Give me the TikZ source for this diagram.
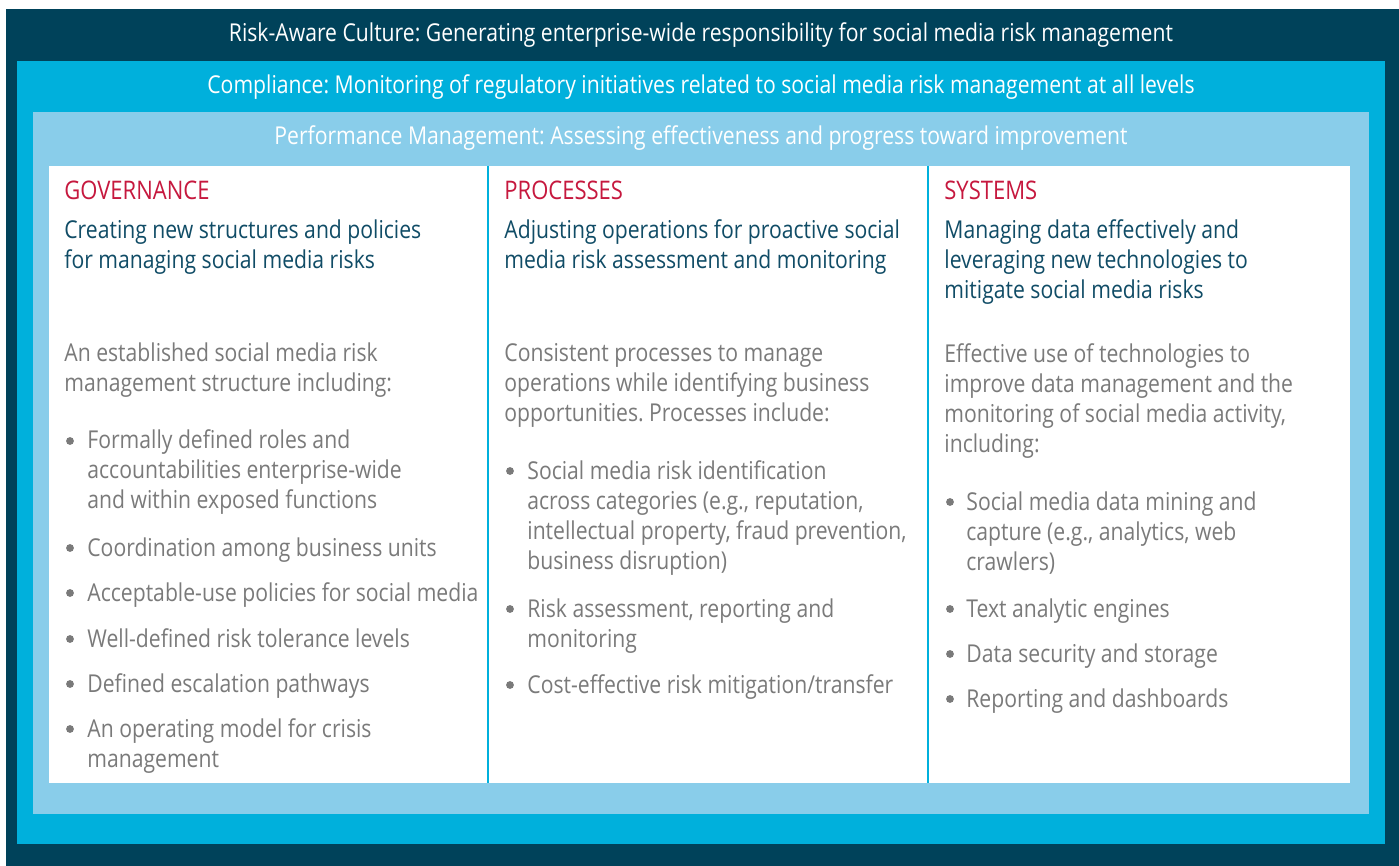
\documentclass[tikz,border=0pt]{standalone}
\usepackage{fontspec}
\setmainfont{Open Sans}[FakeStretch=0.86]
\frenchspacing
\usetikzlibrary{positioning}

\definecolor{culture}{RGB}{0,66,90}
\definecolor{compliance}{RGB}{0,176,220}
\definecolor{perform}{RGB}{137,205,234}
\definecolor{titlered}{RGB}{198,24,62}
\definecolor{subteal}{RGB}{16,76,102}
\definecolor{bodygray}{RGB}{122,122,122}

\tikzset{
  txt/.style={font=\fontsize{12.3}{15}\selectfont, inner sep=0pt},
  band/.style={txt, text=white, anchor=base},
  head/.style={txt, font=\fontsize{12.8}{15}\selectfont, text=titlered, anchor=base west},
  sub/.style={txt, text=subteal, align=left, anchor=base west},
  body/.style={txt, text=bodygray, align=left, anchor=base west},
  bul/.style={circle, fill=bodygray, inner sep=0pt, minimum size=3.9pt},
  sepline/.style={compliance, line width=1.2pt}
}

\begin{document}
\begin{tikzpicture}[x=0.5pt,y=-0.5pt]
\useasboundingbox (0,0) rectangle (1399,866);
\fill[white] (0,0) rectangle (1399,866);
% nested frames
\fill[culture] (6,9) rectangle (1399,866);
\fill[compliance] (17,61) rectangle (1385,844);
\fill[perform] (33,112) rectangle (1369,814);
\fill[white] (49,166) rectangle (1350,783);
\draw[sepline] (488,166) -- (488,783);
\draw[sepline] (928,166) -- (928,783);

% band titles (base = baseline)
\node[band] (culturetxt) at (701,42) {Risk-Aware Culture: Generating enterprise-wide responsibility for social media risk management};
\node[band] (compltxt) at (701,94) {Compliance: Monitoring of regulatory initiatives related to social media risk management at all levels};
\node[band] (perftxt) at (701,145) {Performance Management: Assessing effectiveness and progress toward improvement};

% governance -- multi-line nodes sit on their last line
\node[head] (gov) at (64,200) {GOVERNANCE};
\node[sub] (govsub) at (64,269) {Creating new structures and policies\\for managing social media risks};
\node[body] (govtxt) at (64,392) {An established social media risk\\management structure including:};
\node[bul] (gb1) at (70,441) {};
\node[body] (gi1) at (87,509) {Formally defined roles and\\accountabilities enterprise-wide\\and within exposed functions};
\node[bul] (gb2) at (70,548) {};
\node[body] (gi2) at (87,556) {Coordination among business units};
\node[bul] (gb3) at (70,593) {};
\node[body] (gi3) at (87,601) {Acceptable-use policies for social media};
\node[bul] (gb4) at (70,639) {};
\node[body] (gi4) at (87,647) {Well-defined risk tolerance levels};
\node[bul] (gb5) at (70,684) {};
\node[body] (gi5) at (87,692) {Defined escalation pathways};
\node[bul] (gb6) at (70,729) {};
\node[body] (gi6) at (87,767) {An operating model for crisis\\management};

% processes
\node[head] (proc) at (504,200) {PROCESSES};
\node[sub] (procsub) at (504,269) {Adjusting operations for proactive social\\media risk assessment and monitoring};
\node[body] (proctxt) at (504,422) {Consistent processes to manage\\operations while identifying business\\opportunities. Processes include:};
\node[bul] (pb1) at (510,471) {};
\node[body] (pi1) at (527,569) {Social media risk identification\\across categories (e.g., reputation,\\intellectual property, fraud prevention,\\business disruption)};
\node[bul] (pb2) at (510,609) {};
\node[body] (pi2) at (527,647) {Risk assessment, reporting and\\monitoring};
\node[bul] (pb3) at (510,685) {};
\node[body] (pi3) at (527,693) {Cost-effective risk mitigation/transfer};

% systems
\node[head] (sys) at (944,200) {SYSTEMS};
\node[sub] (syssub) at (944,299) {Managing data effectively and\\leveraging new technologies to\\mitigate social media risks};
\node[body] (systxt) at (944,452) {Effective use of technologies to\\improve data management and the\\monitoring of social media activity,\\including:};
\node[bul] (sb1) at (950,502) {};
\node[body] (si1) at (966,570) {Social media data mining and\\capture (e.g., analytics, web\\crawlers)};
\node[bul] (sb2) at (950,609) {};
\node[body] (si2) at (966,617) {Text analytic engines};
\node[bul] (sb3) at (950,654) {};
\node[body] (si3) at (966,662) {Data security and storage};
\node[bul] (sb4) at (950,699) {};
\node[body] (si4) at (966,707) {Reporting and dashboards};
\end{tikzpicture}
\end{document}
